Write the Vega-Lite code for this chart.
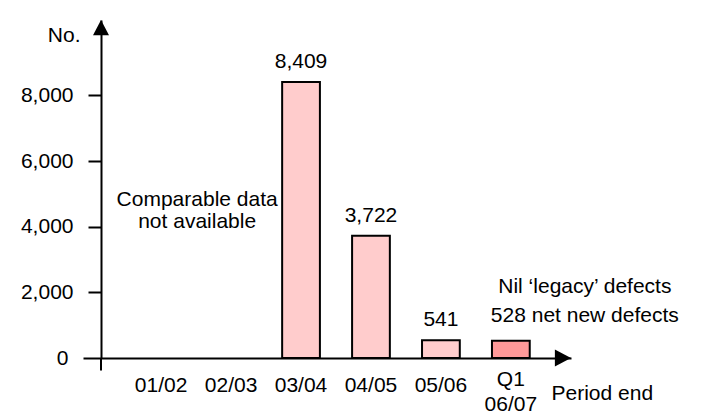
{
  "$schema": "https://vega.github.io/schema/vega-lite/v6.json",
  "width": 470,
  "height": 338,
  "autosize": {"type": "none"},
  "padding": {"left": 101, "top": 20, "right": 131, "bottom": 55},
  "background": "white",
  "config": {
    "view": {"stroke": null},
    "font": "Liberation Sans",
    "text": {"font": "Liberation Sans", "fontSize": 21, "color": "black"},
    "axis": {
      "domainColor": "black",
      "domainWidth": 2,
      "tickColor": "black",
      "tickWidth": 2,
      "labelColor": "black",
      "labelFont": "Liberation Sans",
      "labelFontSize": 21,
      "titleFont": "Liberation Sans",
      "titleFontSize": 21,
      "titleFontWeight": "normal",
      "titleColor": "black",
      "grid": false
    }
  },
  "datasets": {
    "defects": [
      {"period": "01/02", "defects": null, "kind": "none"},
      {"period": "02/03", "defects": null, "kind": "none"},
      {"period": "03/04", "defects": 8409, "kind": "full year"},
      {"period": "04/05", "defects": 3722, "kind": "full year"},
      {"period": "05/06", "defects": 541, "kind": "full year"},
      {"period": "Q1 06/07", "defects": 528, "kind": "quarter"}
    ],
    "notes": [
      {"period": "01/02", "note": ["Comparable data", "not available"]}
    ],
    "quarterNote": [
      {"period": "Q1 06/07", "note": ["Nil ‘legacy’ defects", "528 net new defects"]}
    ],
    "anchor": [{"period": "01/02"}]
  },
  "layer": [
    {
      "data": {"name": "defects"},
      "mark": {"type": "bar", "stroke": "black", "strokeWidth": 2},
      "encoding": {
        "x": {
          "field": "period",
          "type": "nominal",
          "sort": null,
          "scale": {
            "domain": ["01/02", "02/03", "03/04", "04/05", "05/06", "Q1 06/07"],
            "paddingInner": 0.46,
            "paddingOuter": 0.59
          },
          "axis": {
            "title": "Period end",
            "titleAlign": "left",
            "titleBaseline": "middle",
            "titleX": 450,
            "titleY": 35,
            "labelAngle": 0,
            "ticks": false,
            "labelPadding": 27,
            "labelBaseline": {"condition": {"test": "datum.label == 'Q1 06/07'", "value": "alphabetic"}, "value": "middle"},
            "labelLineHeight": 25,
            "labelExpr": "datum.label == 'Q1 06/07' ? ['Q1', '06/07'] : datum.label"
          }
        },
        "y": {
          "field": "defects",
          "type": "quantitative",
          "scale": {"domain": [0, 10300], "nice": false, "zero": true},
          "axis": {
            "values": [0, 2000, 4000, 6000, 8000],
            "format": ",d",
            "title": "No.",
            "titleAngle": 0,
            "titleAlign": "right",
            "titleBaseline": "middle",
            "titleX": -21,
            "titleY": 15,
            "tickSize": {"condition": {"test": "datum.value === 0", "value": 18}, "value": 13},
            "labelPadding": 15
          }
        },
        "fill": {
          "field": "kind",
          "type": "nominal",
          "scale": {"domain": ["full year", "quarter"], "range": ["#FFCCCC", "#FF9999"]},
          "legend": null
        }
      }
    },
    {
      "data": {"name": "defects"},
      "transform": [{"filter": "datum.kind === 'full year'"}],
      "mark": {"type": "text", "baseline": "alphabetic", "dy": -14},
      "encoding": {
        "x": {"field": "period", "type": "nominal", "sort": null},
        "y": {"field": "defects", "type": "quantitative"},
        "text": {"field": "defects", "type": "quantitative", "format": ","}
      }
    },
    {
      "data": {"name": "notes"},
      "mark": {"type": "text", "lineHeight": 22, "baseline": "middle", "align": "center", "dx": 36},
      "encoding": {
        "x": {"field": "period", "type": "nominal"},
        "y": {"datum": 4815},
        "text": {"field": "note"}
      }
    },
    {
      "data": {"name": "quarterNote"},
      "mark": {"type": "text", "lineHeight": 29, "baseline": "middle", "align": "center", "dx": 74},
      "encoding": {
        "x": {"field": "period", "type": "nominal"},
        "y": {"datum": 2163},
        "text": {"field": "note"}
      }
    },
    {
      "data": {"name": "anchor"},
      "mark": {"type": "rule", "color": "black", "strokeWidth": 2},
      "encoding": {
        "x": {"value": 0},
        "y": {"datum": 0},
        "y2": {"datum": -380}
      }
    },
    {
      "data": {"name": "anchor"},
      "mark": {
        "type": "point",
        "shape": "M0,0L1,1.9L-1,1.9Z",
        "size": 256,
        "filled": true,
        "color": "black",
        "opacity": 1
      },
      "encoding": {
        "x": {"value": 0},
        "y": {"datum": 10300}
      }
    },
    {
      "data": {"name": "anchor"},
      "mark": {
        "type": "point",
        "shape": "M0,0L-1.9,-1L-1.9,1Z",
        "size": 289,
        "filled": true,
        "color": "black",
        "opacity": 1
      },
      "encoding": {
        "x": {"value": "width"},
        "y": {"datum": 0}
      }
    }
  ]
}
